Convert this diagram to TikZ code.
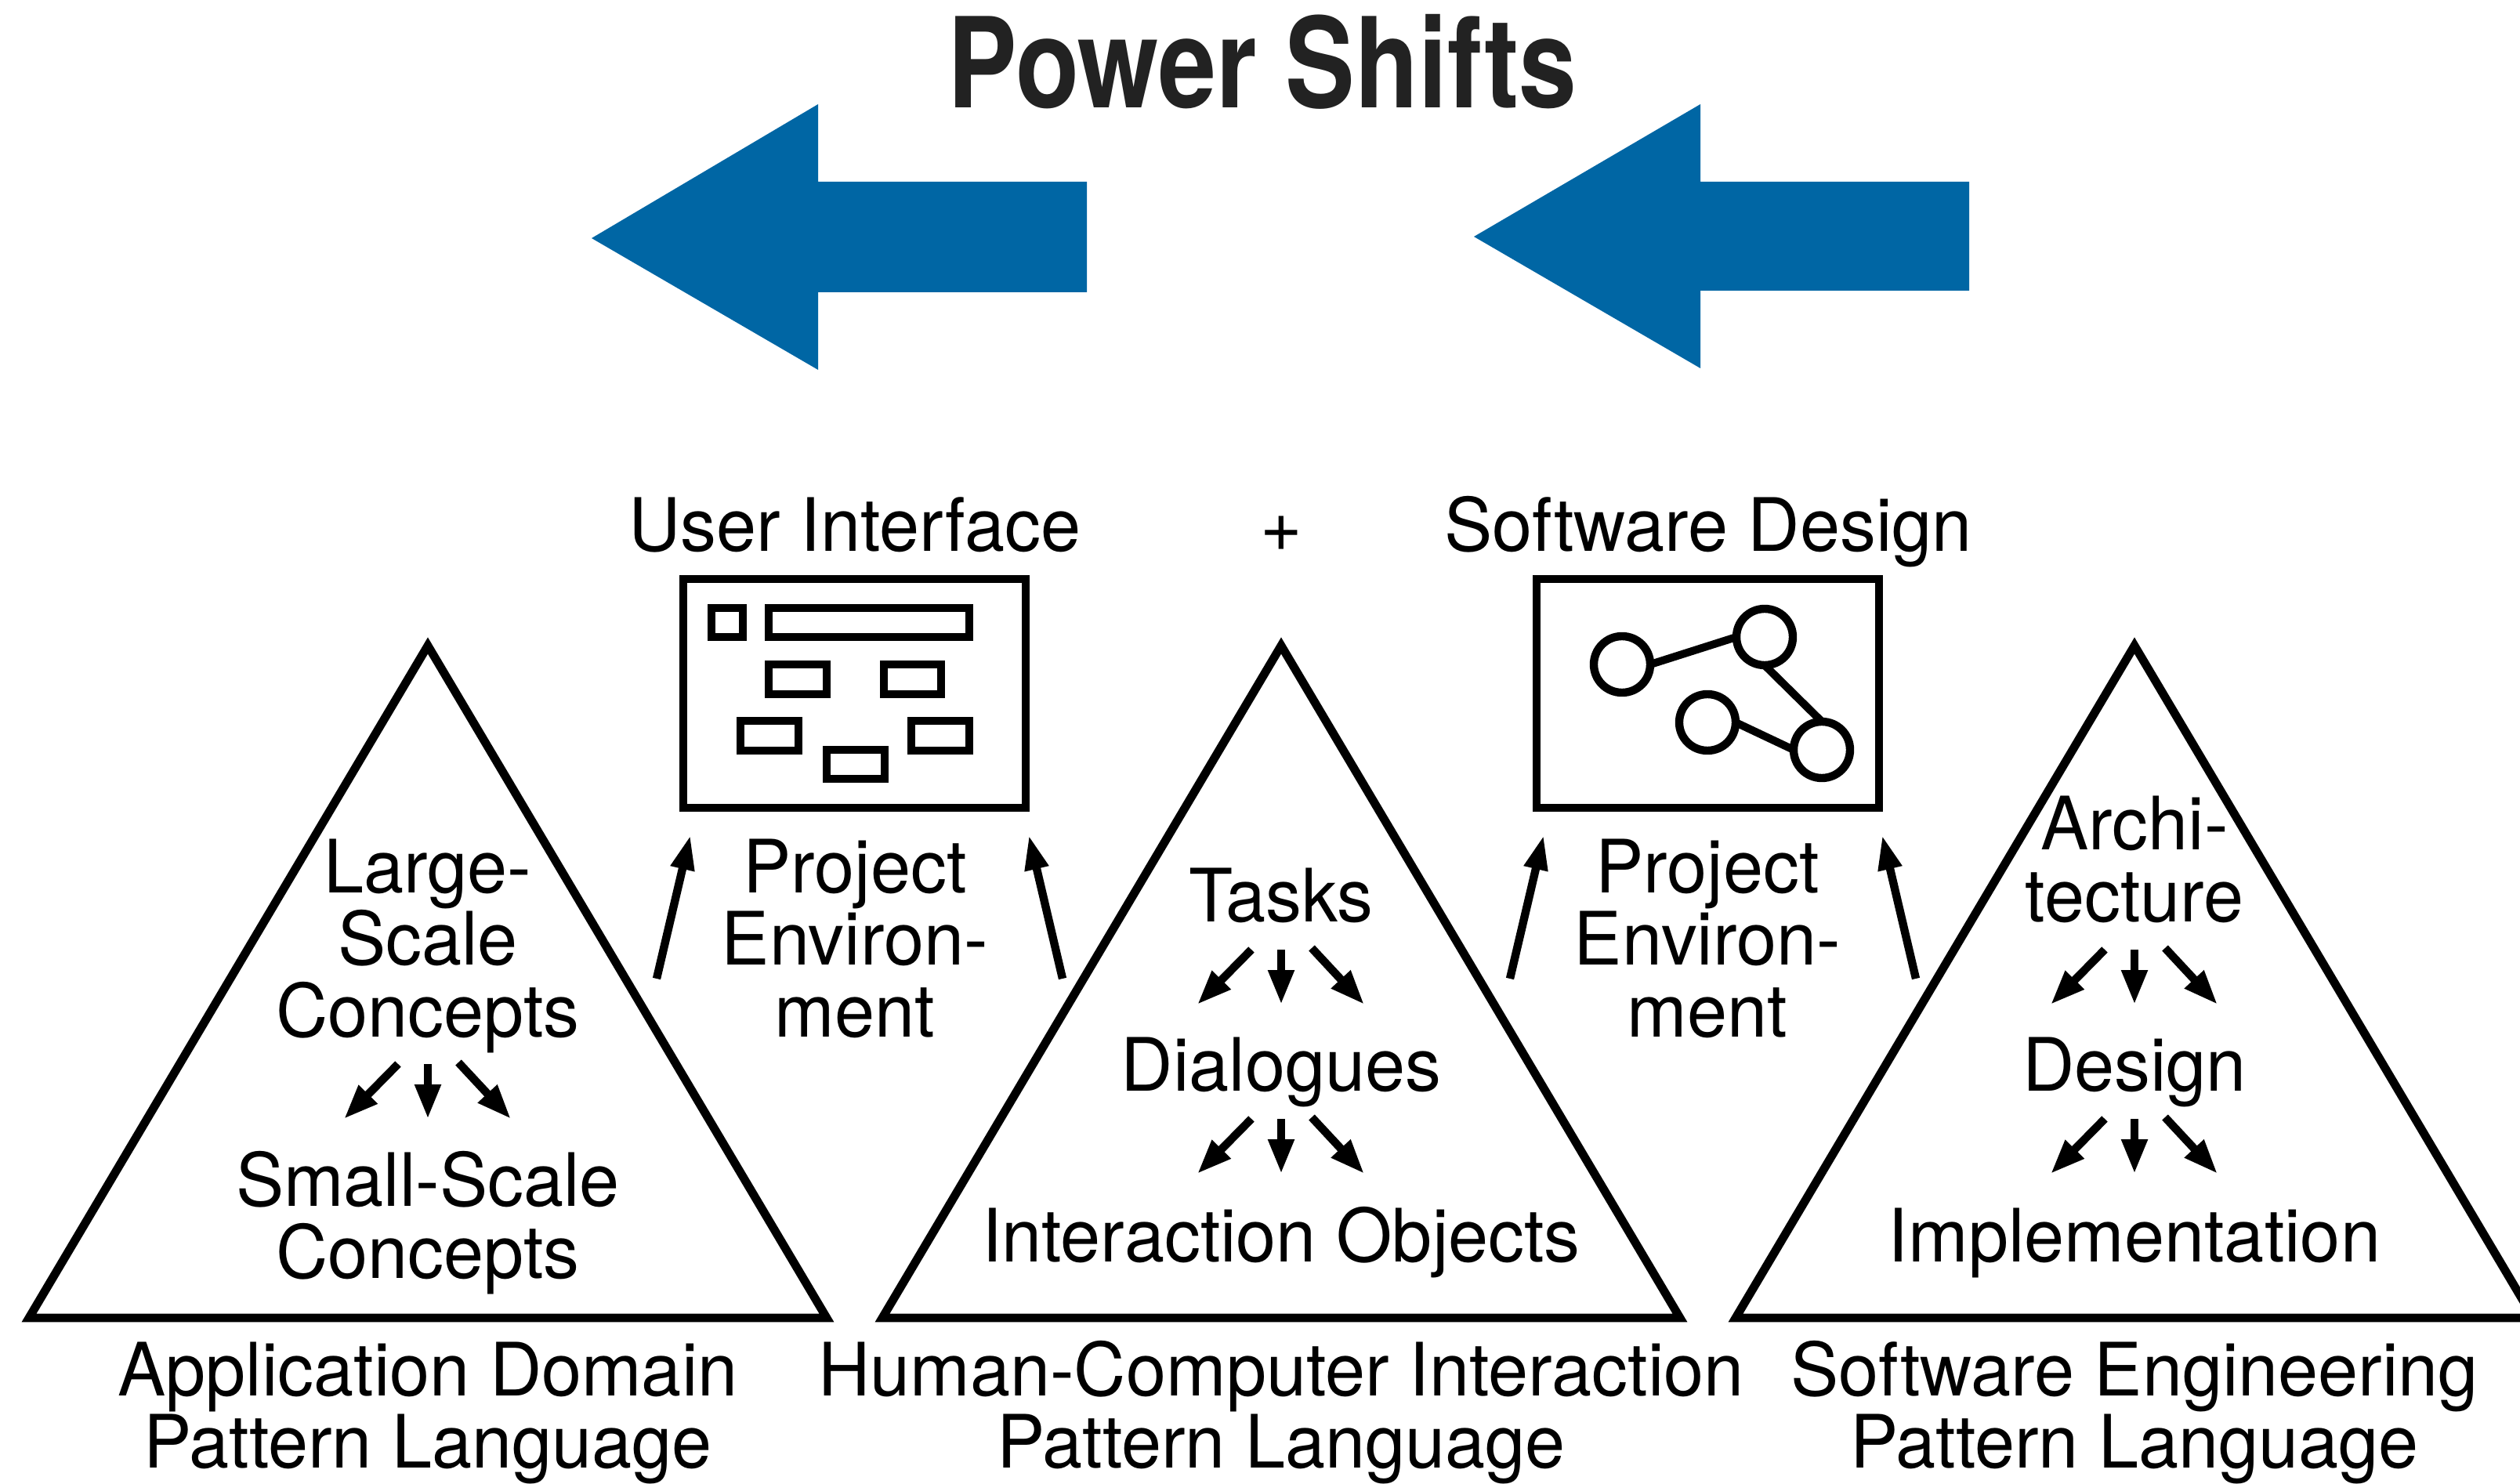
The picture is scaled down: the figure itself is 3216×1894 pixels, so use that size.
\documentclass[tikz,border=0pt]{standalone}
\usepackage{fontspec}
\setmainfont{TeX Gyre Heros}[FakeStretch=0.977]
\newfontfamily\titlefont{TeX Gyre Heros}[FakeStretch=0.83,BoldFont={TeX Gyre Heros Bold}]
\usetikzlibrary{arrows.meta,shapes.geometric}
\definecolor{shiftblue}{HTML}{0066A4}
\definecolor{titlegrey}{HTML}{222222}
\newcommand{\labelfont}{\fontsize{23.5pt}{23pt}\selectfont}
\tikzset{
  x=0.25pt,y=-0.25pt,
  lbl/.style={inner sep=0pt,outer sep=0pt,align=center,anchor=base,font=\labelfont},
  outline/.style={draw=black,line width=2.7pt,fill=none,miter limit=10},
  smallbox/.style={draw=black,line width=2.7pt,fill=none},
  knot/.style={circle,draw=black,line width=2.6pt,minimum size=18pt,inner sep=0pt,outer sep=0pt},
  link/.style={draw=black,line width=2.5pt},
  fanarrow/.style={draw=black,line width=2.6pt,-{Triangle[length=11pt,width=7.8pt]}},
  envarrow/.style={draw=black,line width=2.6pt,-{Triangle[length=11pt,width=7.2pt]}},
  shiftshape/.style={fill=shiftblue,draw=none}
}
\newcommand{\fan}[3]{%
  \coordinate (#1ls) at (#2-38,#3);
  \coordinate (#1le) at (#2-107,#3+70);
  \coordinate (#1ms) at (#2,#3);
  \coordinate (#1me) at (#2,#3+70);
  \coordinate (#1rs) at (#2+39,#3-2);
  \coordinate (#1re) at (#2+106,#3+70);
  \draw[fanarrow] (#1ls) -- (#1le);
  \draw[fanarrow] (#1ms) -- (#1me);
  \draw[fanarrow] (#1rs) -- (#1re);
}
\newcommand{\tri}[4]{%
  \coordinate (#1a) at (#3,824);
  \coordinate (#1b) at (#2,1682);
  \coordinate (#1c) at (#4,1682);
  \draw[outline] (#1a) -- (#1b) -- (#1c) -- cycle;
}
\begin{document}
\begin{tikzpicture}
\useasboundingbox (0,0) rectangle (3216,1894);
% title
\node[lbl,text=titlegrey,font=\titlefont\bfseries\fontsize{40pt}{40pt}\selectfont] (title) at (1611,138) {Power Shifts};
% blue arrows
\coordinate (a1t) at (755,304);
\coordinate (a1u) at (1044,133);
\coordinate (a1v) at (1044,232);
\coordinate (a1w) at (1387,232);
\coordinate (a1x) at (1387,373);
\coordinate (a1y) at (1044,373);
\coordinate (a1z) at (1044,472);
\fill[shiftshape] (a1t) -- (a1u) -- (a1v) -- (a1w) -- (a1x) -- (a1y) -- (a1z) -- cycle;
\coordinate (a2t) at (1881,302);
\coordinate (a2u) at (2170,133);
\coordinate (a2v) at (2170,232);
\coordinate (a2w) at (2513,232);
\coordinate (a2x) at (2513,371);
\coordinate (a2y) at (2170,371);
\coordinate (a2z) at (2170,470);
\fill[shiftshape] (a2t) -- (a2u) -- (a2v) -- (a2w) -- (a2x) -- (a2y) -- (a2z) -- cycle;
% headings
\node[lbl] (ui) at (1091,703) {User Interface};
\node[lbl] (plus) at (1635,703) {+};
\node[lbl] (sd) at (2180,703) {Software Design};
% UI box
\coordinate (ub1) at (872,739); \coordinate (ub2) at (1309,1031);
\draw[smallbox] (ub1) rectangle (ub2);
\coordinate (i1a) at (908,776);  \coordinate (i1b) at (948,813);  \draw[smallbox] (i1a) rectangle (i1b);
\coordinate (i2a) at (981,776);  \coordinate (i2b) at (1237,813); \draw[smallbox] (i2a) rectangle (i2b);
\coordinate (i3a) at (981,848);  \coordinate (i3b) at (1055,886); \draw[smallbox] (i3a) rectangle (i3b);
\coordinate (i4a) at (1128,848); \coordinate (i4b) at (1201,886); \draw[smallbox] (i4a) rectangle (i4b);
\coordinate (i5a) at (945,920);  \coordinate (i5b) at (1019,958); \draw[smallbox] (i5a) rectangle (i5b);
\coordinate (i6a) at (1163,920); \coordinate (i6b) at (1237,958); \draw[smallbox] (i6a) rectangle (i6b);
\coordinate (i7a) at (1055,957); \coordinate (i7b) at (1129,994); \draw[smallbox] (i7a) rectangle (i7b);
% SD box
\coordinate (sb1) at (1961,739); \coordinate (sb2) at (2398,1031);
\draw[smallbox] (sb1) rectangle (sb2);
\node[knot] (k1) at (2070,848) {};
\node[knot] (k2) at (2252,813) {};
\node[knot] (k3) at (2179,922) {};
\node[knot] (k4) at (2325,957) {};
\draw[link] (k1.east) -- (k2.west);
\draw[link] (k2.south) -- (k4.north);
\draw[link] (k3.east) -- (k4.west);
% triangles
\tri{ta}{37}{546}{1055}
\tri{tb}{1126}{1635}{2144}
\tri{tc}{2215}{2724}{3233}
% triangle 1
\node[lbl] (t1top) at (546,1323) {Large-\\[0pt]Scale\\[0pt]Concepts};
\fan{fa}{546}{1358}
\node[lbl] (t1bot) at (546,1631) {Small-Scale\\[0pt]Concepts};
% triangle 2
\node[lbl] (t2a) at (1635,1176) {Tasks};
\fan{fb}{1635}{1212}
\node[lbl] (t2b) at (1635,1392) {Dialogues};
\fan{fc}{1635}{1428}
\node[lbl] (t2c) at (1635,1610) {Interaction Objects};
% triangle 3
\node[lbl] (t3a) at (2724,1176) {Archi-\\[0pt]tecture};
\fan{fd}{2724}{1212}
\node[lbl] (t3b) at (2724,1392) {Design};
\fan{fe}{2724}{1428}
\node[lbl] (t3c) at (2724,1610) {Implementation};
% project environment
\node[lbl] (pe1) at (1091,1323) {Project\\[0pt]Environ-\\[0pt]ment};
\node[lbl] (pe2) at (2179,1323) {Project\\[0pt]Environ-\\[0pt]ment};
% environment arrows
\coordinate (e1s) at (838,1249); \coordinate (e1e) at (881,1066);
\coordinate (e2s) at (1356,1249); \coordinate (e2e) at (1313,1066);
\coordinate (e3s) at (1927,1249); \coordinate (e3e) at (1970,1066);
\coordinate (e4s) at (2445,1249); \coordinate (e4e) at (2402,1066);
\draw[envarrow] (e1s) -- (e1e);
\draw[envarrow] (e2s) -- (e2e);
\draw[envarrow] (e3s) -- (e3e);
\draw[envarrow] (e4s) -- (e4e);
% captions
\node[lbl] (c1) at (546,1873) {Application Domain\\[0pt]Pattern Language};
\node[lbl] (c2) at (1635,1873) {Human-Computer Interaction\\[0pt]Pattern Language};
\node[lbl] (c3) at (2724,1873) {Software Engineering\\[0pt]Pattern Language};
\end{tikzpicture}
\end{document}
